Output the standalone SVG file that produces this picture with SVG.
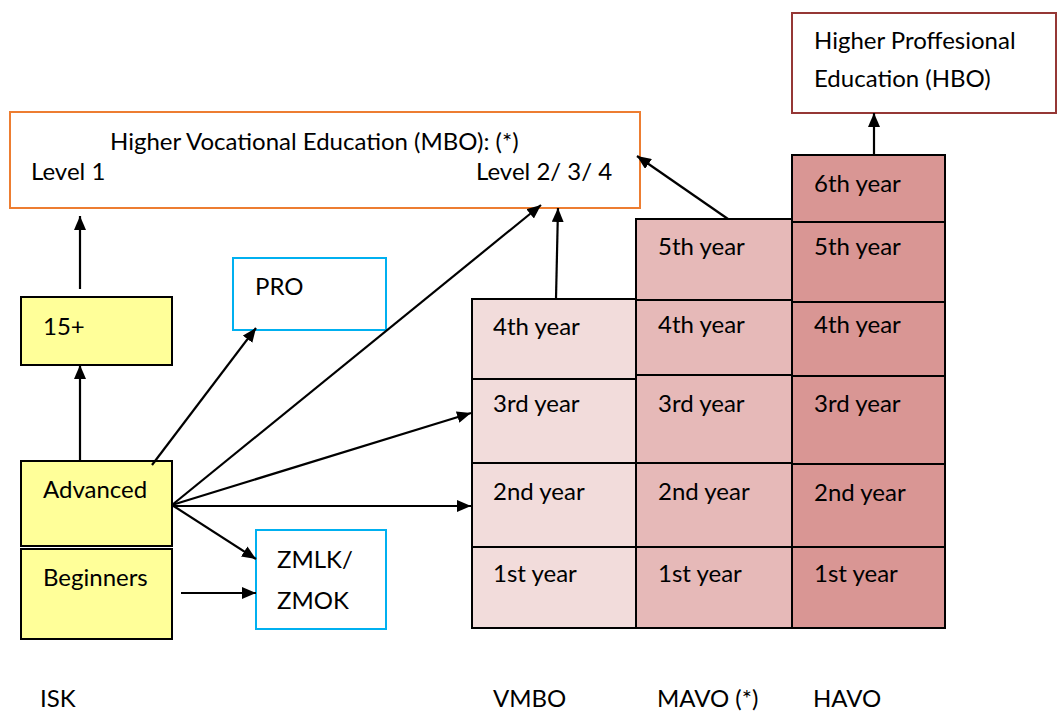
<svg xmlns="http://www.w3.org/2000/svg" width="1058" height="711" viewBox="0 0 1058 711">
<style>
text{font-family:Lato,"Liberation Sans",sans-serif;font-size:24px;fill:#000}
.yel{fill:#FFFF99;stroke:#000;stroke-width:2}
.blue{fill:#fff;stroke:#00B0F0;stroke-width:2}
.v{fill:#F2DCDB;stroke:#000;stroke-width:2}
.m{fill:#E6B9B8;stroke:#000;stroke-width:2}
.h{fill:#D99694;stroke:#000;stroke-width:2}
.c line{stroke:#000;stroke-width:2.2;marker-end:url(#ah)}
</style>
<defs>
<marker id="ah" markerUnits="userSpaceOnUse" viewBox="0 0 14 12" refX="14" refY="6" markerWidth="14" markerHeight="12" orient="auto">
<path d="M0,0 L14,6 L0,12 Z" fill="#000"/>
</marker>
</defs>
<rect width="1058" height="711" fill="#fff"/>
<g id="mbo">
<rect x="10" y="112" width="630" height="96" fill="#fff" stroke="#ED7D31" stroke-width="2"/>
<text x="110" y="150">Higher Vocational Education (MBO): (*)</text>
<text x="31" y="180">Level 1</text>
<text x="476" y="180">Level 2/ 3/ 4</text>
</g>
<g id="hbo">
<rect x="792" y="13" width="264" height="100" fill="#fff" stroke="#953735" stroke-width="2"/>
<text x="814" y="49">Higher Proffesional</text>
<text x="814" y="87">Education (HBO)</text>
</g>
<g id="n15"><rect class="yel" x="21" y="297" width="151" height="68"/><text x="43" y="335">15+</text></g>
<g id="advanced"><rect class="yel" x="21" y="461" width="151" height="85"/><text x="43" y="498">Advanced</text></g>
<g id="beginners"><rect class="yel" x="21" y="549" width="151" height="90"/><text x="43" y="586">Beginners</text></g>
<g id="pro"><rect class="blue" x="233" y="258" width="153" height="72"/><text x="255" y="295">PRO</text></g>
<g id="zmlk"><rect class="blue" x="256" y="530" width="130" height="99"/><text x="277" y="568">ZMLK/</text><text x="277" y="609">ZMOK</text></g>
<g id="vmbo">
<rect class="v" x="472" y="299" width="164" height="80"/><text x="493" y="335">4th year</text>
<rect class="v" x="472" y="379" width="164" height="84"/><text x="493" y="412">3rd year</text>
<rect class="v" x="472" y="463" width="164" height="84"/><text x="493" y="500">2nd year</text>
<rect class="v" x="472" y="547" width="164" height="81"/><text x="493" y="582">1st year</text>
</g>
<g id="mavo">
<rect class="m" x="636" y="219" width="156" height="81"/><text x="658" y="255">5th year</text>
<rect class="m" x="636" y="300" width="156" height="75"/><text x="658" y="333">4th year</text>
<rect class="m" x="636" y="375" width="156" height="88"/><text x="658" y="412">3rd year</text>
<rect class="m" x="636" y="463" width="156" height="84"/><text x="658" y="500">2nd year</text>
<rect class="m" x="636" y="547" width="156" height="81"/><text x="658" y="582">1st year</text>
</g>
<g id="havo">
<rect class="h" x="792" y="155" width="153" height="67"/><text x="814" y="192">6th year</text>
<rect class="h" x="792" y="222" width="153" height="80"/><text x="814" y="255">5th year</text>
<rect class="h" x="792" y="302" width="153" height="74"/><text x="814" y="333">4th year</text>
<rect class="h" x="792" y="376" width="153" height="88"/><text x="814" y="412">3rd year</text>
<rect class="h" x="792" y="464" width="153" height="83"/><text x="814" y="501">2nd year</text>
<rect class="h" x="792" y="547" width="153" height="81"/><text x="814" y="582">1st year</text>
</g>
<g id="labels">
<text x="40" y="707">ISK</text>
<text x="493" y="707">VMBO</text>
<text x="657" y="707">MAVO (*)</text>
<text x="813" y="707">HAVO</text>
</g>
<g id="connectors" class="c">
<line x1="80" y1="289" x2="80" y2="216"/>
<line x1="80" y1="461" x2="80" y2="365"/>
<line x1="152" y1="465" x2="256" y2="328"/>
<line x1="172" y1="505" x2="541" y2="205"/>
<line x1="172" y1="505" x2="471" y2="413"/>
<line x1="172" y1="506" x2="471" y2="506"/>
<line x1="172" y1="505" x2="256" y2="559"/>
<line x1="181" y1="593" x2="256" y2="593"/>
<line x1="556" y1="299" x2="558" y2="208"/>
<line x1="728" y1="219" x2="637" y2="156"/>
<line x1="874" y1="155" x2="874" y2="113"/>
</g>
</svg>
